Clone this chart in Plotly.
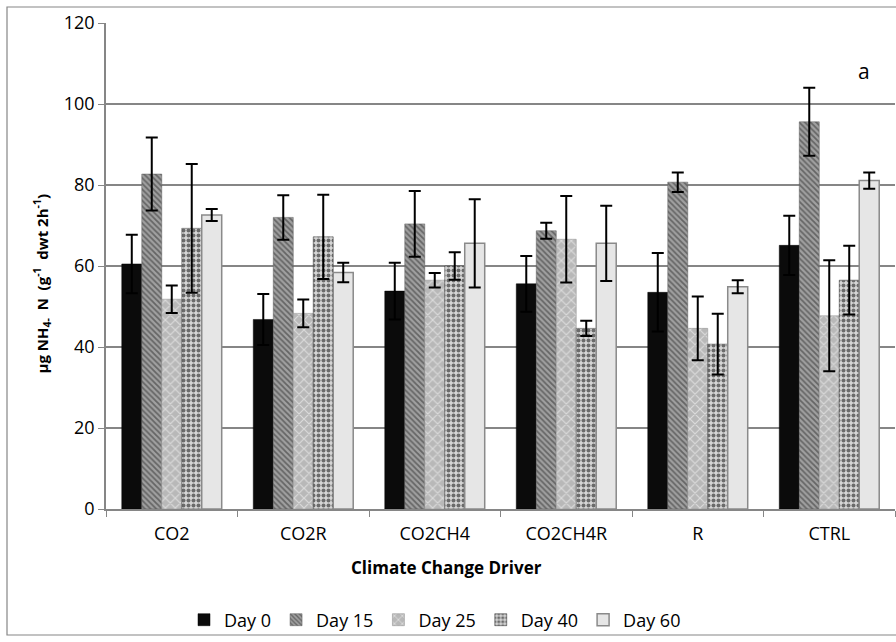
import plotly.graph_objects as go

# Treatments (climate change drivers) and sampling days
drivers = ["CO2", "CO2R", "CO2CH4", "CO2CH4R", "R", "CTRL"]
days = ["Day 0", "Day 15", "Day 25", "Day 40", "Day 60"]

# Mean NH4-N per driver for each sampling day
day0 = [60.5, 46.8, 53.8, 55.6, 53.5, 65.1]
day15 = [82.7, 72.0, 70.4, 68.7, 80.7, 95.6]
day25 = [51.8, 48.3, 56.5, 66.6, 44.6, 47.7]
day40 = [69.3, 67.2, 60.0, 44.6, 40.7, 56.5]
day60 = [72.6, 58.4, 65.6, 65.6, 54.9, 81.1]

# Standard errors
err0 = [7.2, 6.3, 7.0, 6.9, 9.7, 7.3]
err15 = [9.0, 5.5, 8.1, 2.0, 2.4, 8.4]
err25 = [3.4, 3.4, 1.8, 10.7, 7.9, 13.7]
err40 = [15.9, 10.4, 3.4, 1.9, 7.5, 8.5]
err60 = [1.5, 2.4, 10.9, 9.3, 1.6, 2.0]

y_ticks = [0, 20, 40, 60, 80, 100, 120]

values = [day0, day15, day25, day40, day60]
errors = [err0, err15, err25, err40, err60]

# Fill styles per sampling day: solid black, dark hatch, light weave,
# black/white check and pale grey
styles = [
    dict(color="#0b0b0b", line=dict(color="#000000", width=0.5)),
    dict(color="#8c8c8c", line=dict(color="#5a5a5a", width=0.5),
         pattern=dict(shape="\\", fgcolor="#2a2a2a", bgcolor="#a0a0a0",
                      size=4, solidity=0.45)),
    dict(color="#c8c8c8", line=dict(color="#8a8a8a", width=0.5),
         pattern=dict(shape="x", fgcolor="#ffffff", bgcolor="#b8b8b8",
                      size=7, solidity=0.3)),
    dict(color="#ffffff", line=dict(color="#3a3a3a", width=0.5),
         pattern=dict(shape=".", fgcolor="#000000", bgcolor="#d6d6d6",
                      size=5, solidity=0.5)),
    dict(color="#e6e6e6", line=dict(color="#8a8a8a", width=1.5)),
]

FONT = "Open Sans"
W, H = 896, 642
x0_px, x1_px = 106, 895
y_top_px, y_bot_px = 23, 509

fig = go.Figure()
for name, vals, errs, st in zip(days, values, errors, styles):
    fig.add_trace(go.Bar(
        x=drivers, y=vals, name=name, marker=st,
        error_y=dict(type="data", array=errs, visible=True,
                     color="#000000", thickness=2, width=6),
    ))

fig.update_layout(
    width=W, height=H,
    margin=dict(l=0, r=0, t=0, b=0),
    paper_bgcolor="#ffffff", plot_bgcolor="#ffffff",
    barmode="group", bargap=0.24, bargroupgap=0,
    font=dict(family=FONT, size=18, color="#000000"),
    xaxis=dict(
        domain=[x0_px / W, x1_px / W],
        type="category", tickson="boundaries",
        ticks="outside", ticklen=6, tickcolor="#868686",
        showline=True, linecolor="#868686", linewidth=1.5,
        showgrid=False, automargin=False, ticklabelstandoff=8,
        tickfont=dict(family=FONT, size=18),
    ),
    yaxis=dict(
        domain=[(H - y_bot_px) / H, (H - y_top_px) / H],
        range=[0, 120], tickvals=y_ticks,
        ticks="outside", ticklen=6, tickcolor="#868686",
        showline=True, linecolor="#868686", linewidth=1.5,
        showgrid=True, gridcolor="#868686", gridwidth=1.5,
        zeroline=False, automargin=False,
        tickfont=dict(family=FONT, size=18),
    ),
    legend=dict(
        orientation="h", x=184 / W, xanchor="left", y=1 - 620 / H, yanchor="middle",
        font=dict(family=FONT, size=18), itemwidth=30,
        bgcolor="rgba(0,0,0,0)",
    ),
    showlegend=True,
    shapes=[dict(type="rect", xref="paper", yref="paper",
                 x0=7 / W, x1=1.02, y0=1 - 635 / H, y1=1 - 7 / H,
                 line=dict(color="#868686", width=1.2), layer="below")],
    annotations=[
        dict(text="<b>Climate Change Driver</b>", xref="paper", yref="paper",
             x=446 / W, y=1 - 581 / H, showarrow=False,
             font=dict(family=FONT, size=17)),
        dict(text="<b>µg NH<sub>4-</sub>  N  (g<sup>-1</sup>  dwt 2h<sup>-1</sup>)</b>",
             xref="paper", yref="paper", x=28 / W, y=1 - 284 / H,
             textangle=-90, showarrow=False, font=dict(family=FONT, size=15)),
        dict(text="a", xref="paper", yref="paper", x=872 / W, y=1 - 55 / H,
             showarrow=False, font=dict(family=FONT, size=21)),
    ],
)

fig.write_html("out.html")
